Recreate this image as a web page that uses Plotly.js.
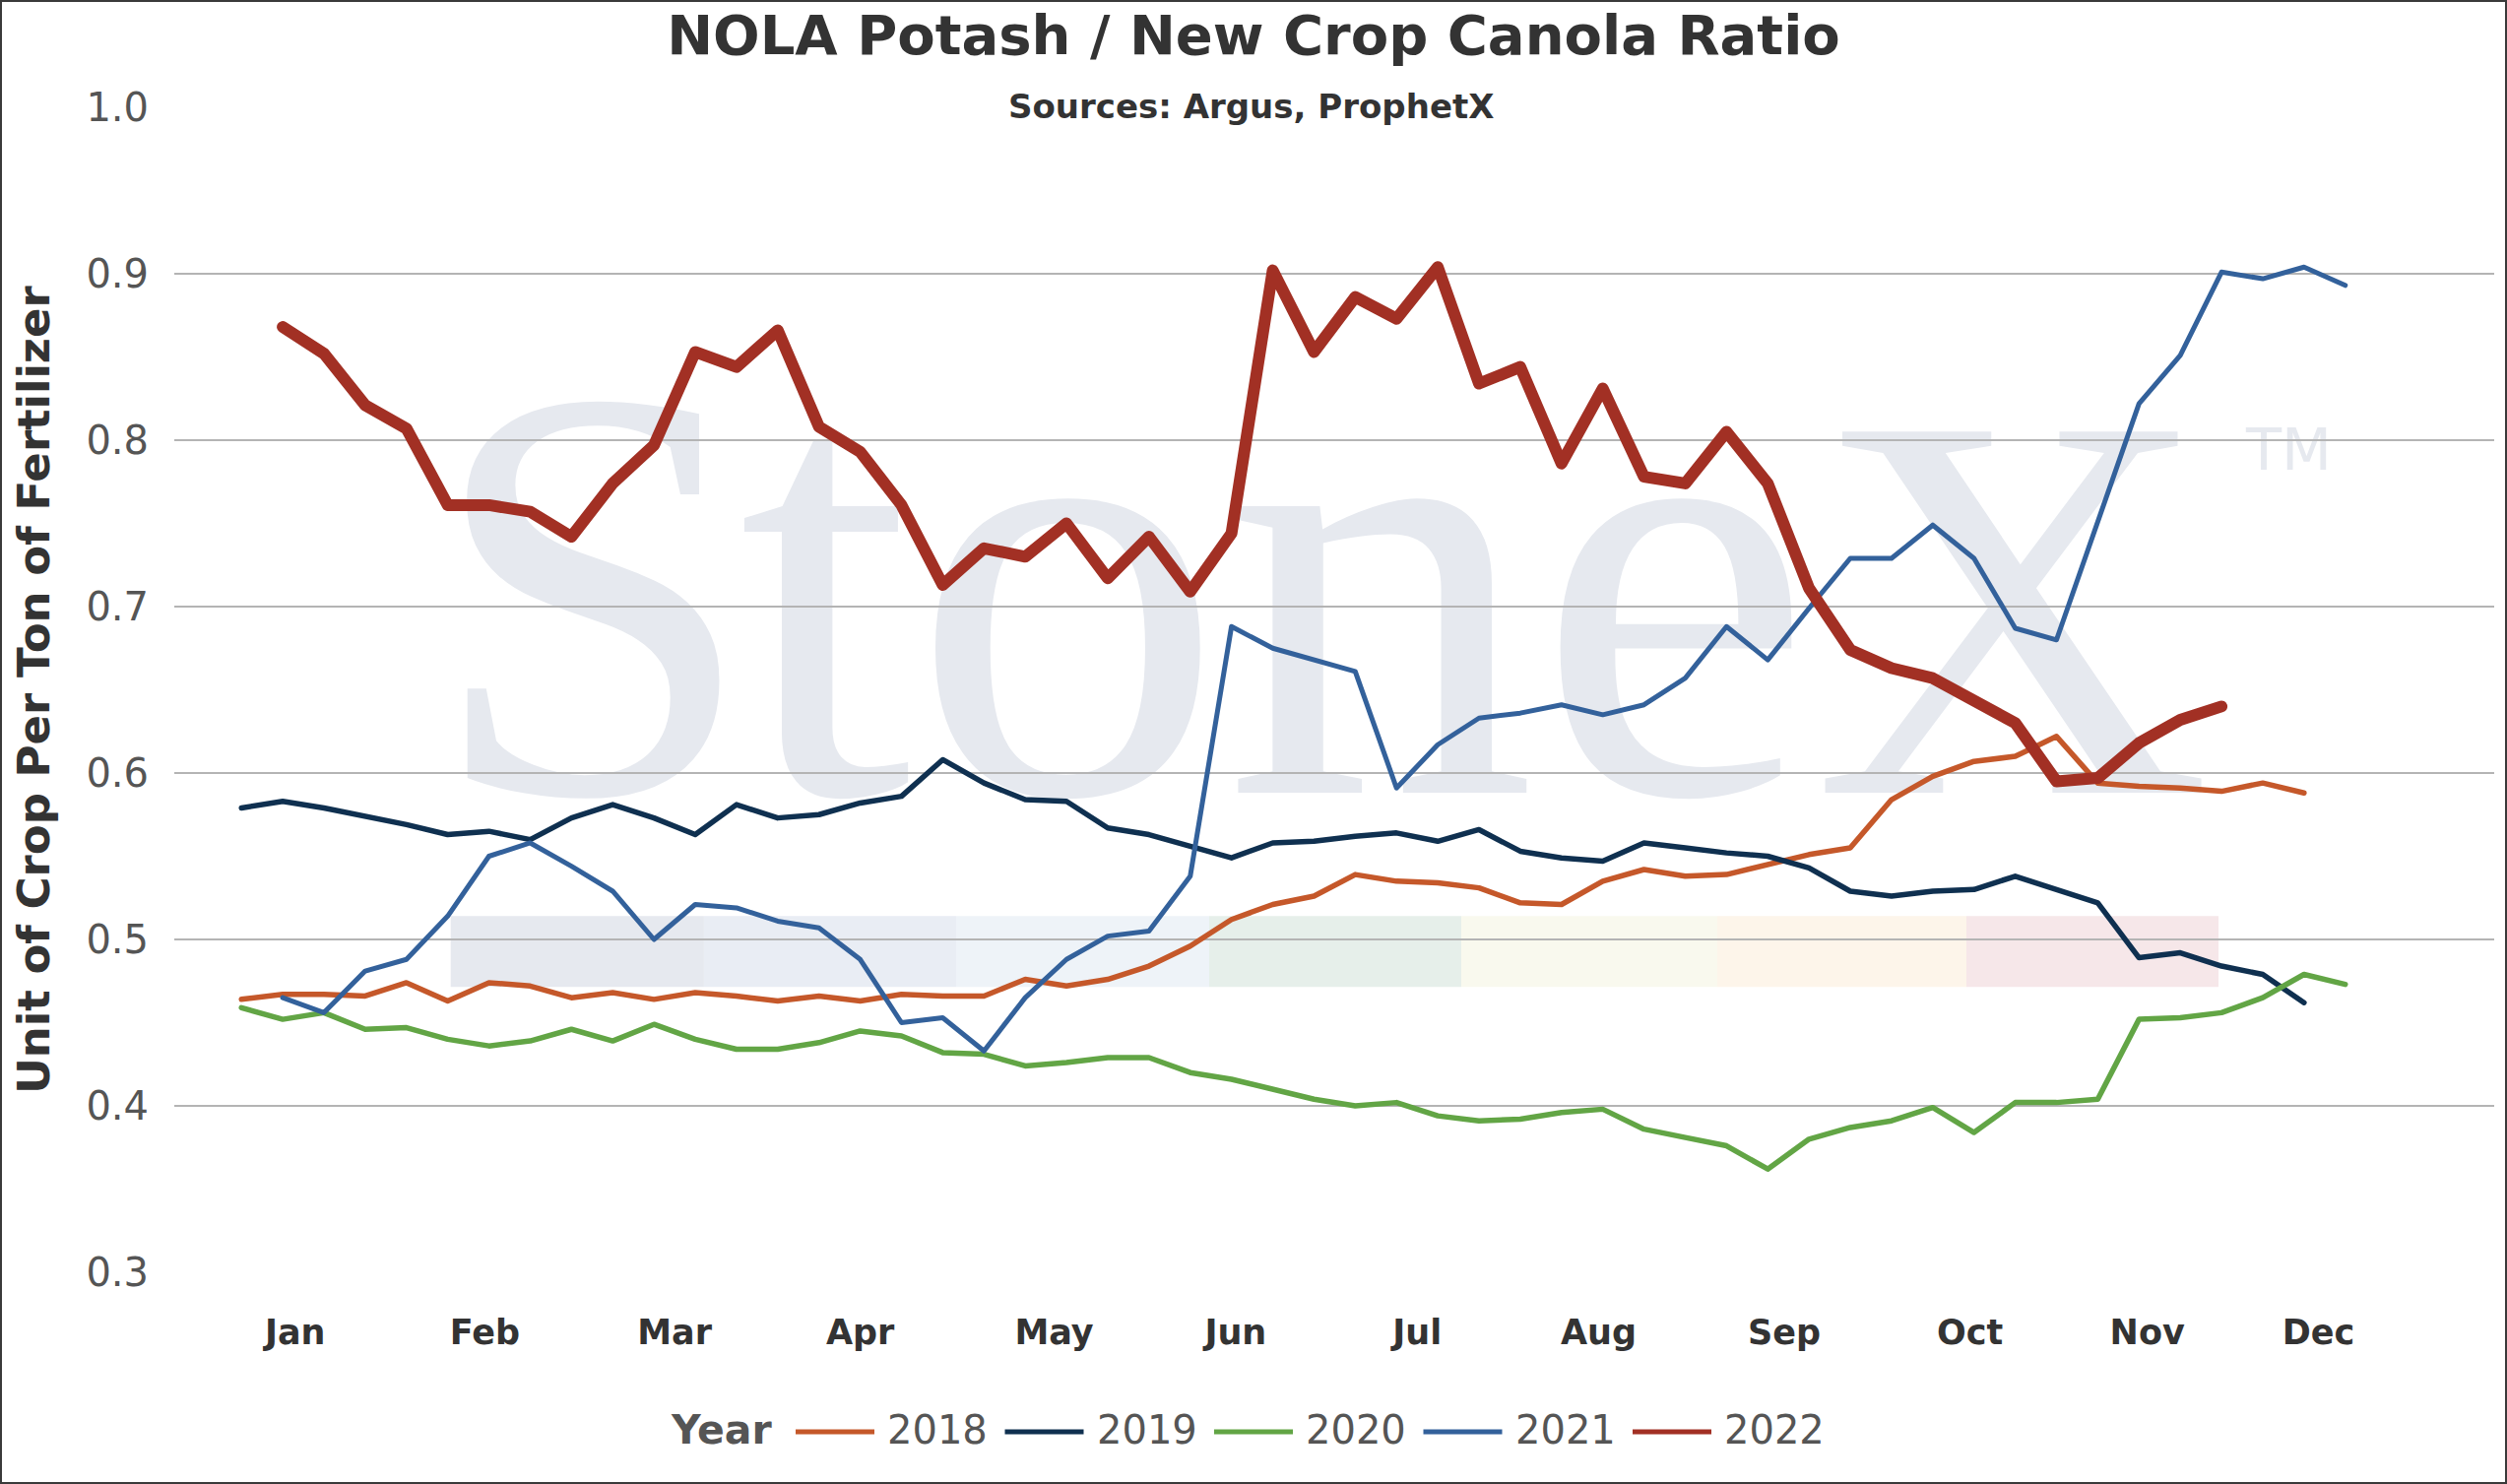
<!DOCTYPE html>
<html><head><meta charset="utf-8">
<script src="https://cdn.plot.ly/plotly-3.0.1.min.js"></script>
<style>
html,body{margin:0;padding:0;background:#fff;}
#wrap{position:relative;width:2546px;height:1507px;overflow:hidden;background:#fff;}
#wm{position:absolute;left:434px;top:274px;font-family:'Liberation Serif',serif;font-size:634px;line-height:1;color:#e6e9ef;white-space:nowrap;z-index:0;}
#wm .capS{font-size:600px;line-height:1;letter-spacing:-18px;}
#wm .capX{font-size:560px;line-height:1;}
#tm{position:absolute;left:2281px;top:427px;font-family:'DejaVu Sans',sans-serif;font-size:59px;line-height:1;color:#e6e9ef;z-index:0;}
#chart{position:absolute;left:0;top:0;width:2546px;height:1507px;z-index:1;}
#border{position:absolute;left:0;top:0;width:2546px;height:1507px;box-sizing:border-box;border:2px solid #3a3a3a;z-index:2;pointer-events:none;}
#chart .scatterlayer path.js-line{stroke-linejoin:round;stroke-linecap:round;}
</style></head>
<body><div id="wrap"><div id="wm"><span class="capS">S</span>tone<span class="capX">X</span></div><div id="tm">TM</div><div id="chart"></div><div id="border"></div></div>
<script>
// ---- data (weekly ratio) ----
const YEARS = ['2018', '2019', '2020', '2021', '2022'];
const FIRST_WEEK = [1, 1, 1, 2, 2];
const MONTHS = ['Jan','Feb','Mar','Apr','May','Jun','Jul','Aug','Sep','Oct','Nov','Dec'];
const MONTH_TICK_WEEKS = [2.3, 6.9, 11.5, 16.0, 20.7, 25.1, 29.5, 33.9, 38.4, 42.9, 47.2, 51.35];
const Y_TICK_STEP = 0.1;

const Y2018 = [0.464,0.467,0.467,0.466,0.474,0.463,0.474,0.472,0.465,0.468,0.464,0.468,0.466,0.463,0.466,0.463,0.467,0.466,0.466,0.476,0.472,0.476,0.484,0.496,0.512,
  0.521,0.526,0.539,0.535,0.534,0.531,0.522,0.521,0.535,0.542,0.538,0.539,0.545,0.551,0.555,0.584,0.598,0.607,0.610,0.622,0.594,0.592,0.591,0.589,0.594,0.588];
const Y2019 = [0.579,0.583,0.579,0.574,0.569,0.563,0.565,0.560,0.573,0.581,0.573,0.563,0.581,0.573,0.575,0.582,0.586,0.608,0.594,0.584,0.583,0.567,0.563,0.556,0.549,
  0.558,0.559,0.562,0.564,0.559,0.566,0.553,0.549,0.547,0.558,0.555,0.552,0.550,0.543,0.529,0.526,0.529,0.530,0.538,0.530,0.522,0.489,0.492,0.484,0.479,0.462];
const Y2020 = [0.459,0.452,0.456,0.446,0.447,0.440,0.436,0.439,0.446,0.439,0.449,0.440,0.434,0.434,0.438,0.445,0.442,0.432,0.431,0.424,0.426,0.429,0.429,0.420,0.416,
  0.410,0.404,0.400,0.402,0.394,0.391,0.392,0.396,0.398,0.386,0.381,0.376,0.362,0.380,0.387,0.391,0.399,0.384,0.402,0.402,0.404,0.452,0.453,0.456,0.465,0.479,0.473];
const Y2021 = [0.465,0.456,0.481,0.488,0.514,0.550,0.558,0.544,0.529,0.500,0.521,0.519,0.511,0.507,0.488,0.450,0.453,0.433,0.465,0.488,0.502,0.505,0.538,
  0.688,0.675,0.668,0.661,0.591,0.617,0.633,0.636,0.641,0.635,0.641,0.657,0.688,0.668,0.699,0.729,0.729,0.749,0.729,0.687,0.680,0.752,0.822,0.851,0.901,0.897,0.904,0.893];
const Y2022 = [0.868,0.852,0.821,0.807,0.761,0.761,0.757,0.742,0.774,0.797,0.853,0.844,0.866,0.808,0.793,0.761,0.713,0.735,0.730,0.750,0.717,0.742,0.709,0.744,
  0.902,0.853,0.886,0.873,0.904,0.834,0.844,0.786,0.831,0.778,0.774,0.805,0.774,0.711,0.674,0.663,0.657,0.644,0.630,0.595,0.597,0.618,0.632,0.640];
const SERIES = [Y2018, Y2019, Y2020, Y2021, Y2022];

// ---- styles ----
const COLORS = ['#c5582a', '#0f3050', '#62a545', '#33619b', '#a23024'];
const WIDTHS = [5.5, 5.5, 5.5, 5, 12];
const BAND_COLORS = ['#e6e9ef','#e9edf4','#eef3f8','#e6efea','#f9f9ee','#fdf5ea','#f6e7e9'];

const W = 2546, H = 1507;
const M = {l: 177, r: 13, t: 109, b: 215};
const PW = W - M.l - M.r, PH = H - M.t - M.b;
const px2x = px => (px - M.l) / PW;
const py2y = py => (H - M.b - py) / PH;

const traces = SERIES.map((vals, i) => ({
  type: 'scatter', mode: 'lines', name: YEARS[i],
  x: vals.map((_, k) => FIRST_WEEK[i] + k),
  y: vals,
  line: {color: COLORS[i], width: WIDTHS[i]},
  hoverinfo: 'x+y+name'
}));

// watermark colour band (decoration)
const BAND_PX = [457.7, 714.9, 971, 1228, 1484, 1744, 1997, 2253];
const shapes = BAND_COLORS.map((c, i) => ({
  type: 'rect', layer: 'below', xref: 'paper', yref: 'y',
  x0: px2x(BAND_PX[i]), x1: px2x(BAND_PX[i + 1]), y0: 0.4715, y1: 0.514,
  fillcolor: c, line: {width: 0}
}));

const annotations = [{
  text: 'Sources: Argus, ProphetX', showarrow: false,
  xref: 'paper', yref: 'paper', x: px2x(1270), y: py2y(108), xanchor: 'center', yanchor: 'middle',
  font: {family: 'DejaVu Sans', size: 34, color: '#333', weight: 'bold'}
}, {
  text: 'Year', showarrow: false,
  xref: 'paper', yref: 'paper', x: px2x(679), y: py2y(1452), xanchor: 'left', yanchor: 'middle',
  font: {family: 'DejaVu Sans', size: 41, color: '#555', weight: 'bold'}
}];

// custom legend
const LEG_X0 = 808, LEG_PITCH = 212.5, LEG_LINE = 80, LEG_TXT = 91, LEG_Y = 1454;
YEARS.forEach((yr, i) => {
  const x0 = LEG_X0 + LEG_PITCH * i;
  shapes.push({type: 'line', xref: 'paper', yref: 'paper',
    x0: px2x(x0), x1: px2x(x0 + LEG_LINE), y0: py2y(LEG_Y), y1: py2y(LEG_Y),
    line: {color: COLORS[i], width: 5}});
  annotations.push({text: yr, showarrow: false, xref: 'paper', yref: 'paper',
    x: px2x(x0 + LEG_TXT), y: py2y(1452), xanchor: 'left', yanchor: 'middle',
    font: {family: 'DejaVu Sans', size: 40, color: '#555'}});
});

const layout = {
  width: W, height: H,
  paper_bgcolor: 'rgba(0,0,0,0)', plot_bgcolor: 'rgba(0,0,0,0)',
  margin: {l: M.l, r: M.r, t: M.t, b: M.b, pad: 0},
  showlegend: false,
  title: {text: 'NOLA Potash / New Crop Canola Ratio',
    font: {family: 'DejaVu Sans', size: 56, color: '#333', weight: 'bold'},
    x: 0.5, xanchor: 'center', xref: 'container', y: 1 - 35 / H, yanchor: 'middle', yref: 'container'},
  xaxis: {range: [-0.628, 55.61], tickmode: 'array', tickvals: MONTH_TICK_WEEKS, ticktext: MONTHS,
    showgrid: false, zeroline: false, showline: false, ticks: '',
    tickfont: {family: 'DejaVu Sans', size: 35, color: '#333', weight: 'bold'},
    ticklabelstandoff: 37, fixedrange: true},
  yaxis: {range: [0.3, 1.0], tick0: 0, dtick: Y_TICK_STEP, tickformat: '.1f',
    showgrid: true, gridcolor: '#b4b4b4', gridwidth: 2, zeroline: false, showline: false, ticks: '',
    tickfont: {family: 'DejaVu Sans', size: 40, color: '#555'}, ticklabelstandoff: 25,
    title: {text: 'Unit of Crop Per Ton of Fertilizer', standoff: 22,
      font: {family: 'DejaVu Sans', size: 45, color: '#333', weight: 'bold'}},
    fixedrange: true},
  shapes: shapes,
  annotations: annotations
};

Plotly.newPlot('chart', traces, layout, {staticPlot: true, displayModeBar: false});
</script>
</body></html>
